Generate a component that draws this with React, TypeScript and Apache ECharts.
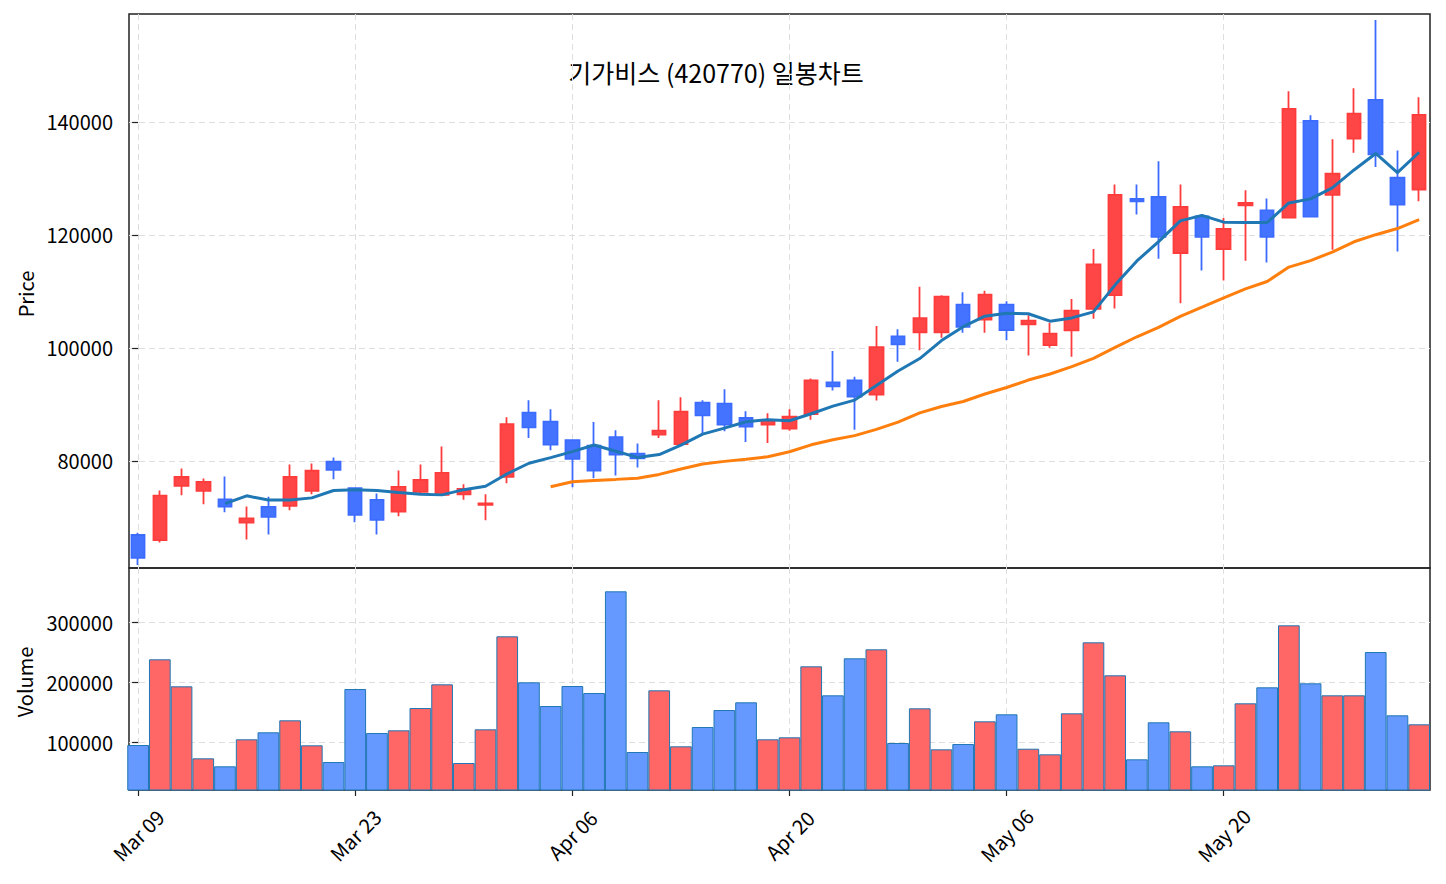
import React, { useEffect, useRef } from "react";
import * as echarts from "echarts";

const dates = [
  "Mar 09", "Mar 10", "Mar 11", "Mar 12", "Mar 13",
  "Mar 16", "Mar 17", "Mar 18", "Mar 19", "Mar 20",
  "Mar 23", "Mar 24", "Mar 25", "Mar 26", "Mar 27",
  "Mar 30", "Mar 31", "Apr 01", "Apr 02", "Apr 03",
  "Apr 06", "Apr 07", "Apr 08", "Apr 09", "Apr 10",
  "Apr 13", "Apr 14", "Apr 15", "Apr 16", "Apr 17",
  "Apr 20", "Apr 21", "Apr 22", "Apr 23", "Apr 24",
  "Apr 27", "Apr 28", "Apr 29", "Apr 30", "May 04",
  "May 06", "May 07", "May 08", "May 11", "May 12",
  "May 13", "May 14", "May 15", "May 18", "May 19",
  "May 20", "May 21", "May 22", "May 26", "May 27",
  "May 28", "May 29", "Jun 01", "Jun 02", "Jun 04",
];

const opens = [
  66900, 66010, 75600, 74710, 73220, 69080, 71870, 72050, 74710, 79870,
  75180, 73120, 71040, 74540, 74000, 74110, 72230, 77200, 88570, 86970,
  83700, 82710, 84230, 81290, 84660, 82990, 90340, 90160, 87610, 86440,
  85730, 88320, 93900, 94250, 91760, 102060, 102780, 102780, 107680, 105010,
  107680, 104200, 100520, 103130, 106910, 109350, 126400, 126750, 116810, 123310,
  117520, 125260, 124370, 123070, 140180, 127110, 137050, 143910, 130130, 128050,
];
const closes = [
  62870, 73880, 77200, 76310, 71930, 69850, 70100, 77200, 78270, 78440,
  70450, 69560, 75420, 76670, 77910, 75070, 72510, 86540, 85960, 82880,
  80400, 78320, 81110, 80450, 85370, 88740, 88090, 86440, 86080, 87150,
  87860, 94250, 93190, 91410, 100160, 100640, 105260, 109100, 103720, 109450,
  103180, 104840, 102530, 106610, 114780, 127110, 125970, 119650, 124980, 119650,
  121070, 125690, 119650, 142310, 123250, 130840, 141490, 134260, 125380, 141240,
];
const lows = [
  61570, 65590, 73930, 72330, 70910, 66120, 67010, 71270, 74110, 76770,
  69140, 67010, 70200, 74300, 73900, 73120, 69490, 76060, 84060, 81920,
  75350, 76950, 77430, 78850, 84060, 82900, 84940, 85250, 83350, 83170,
  85370, 87320, 92470, 85550, 90700, 97550, 99580, 101820, 102700, 102700,
  101350, 98690, 100040, 98440, 105190, 106970, 123610, 115790, 107930, 113720,
  111940, 115440, 115140, 122900, 123250, 117390, 134570, 132010, 117090, 125970,
];
const highs = [
  67310, 74770, 78670, 76900, 77250, 71930, 73650, 79390, 79560, 80630,
  75300, 74230, 78320, 79390, 82580, 75890, 74110, 87730, 90750, 89150,
  83750, 86900, 85420, 83110, 90750, 91280, 90750, 92710, 88800, 88440,
  89150, 94610, 99450, 94890, 103890, 103310, 110820, 109350, 109880, 110110,
  108280, 105790, 104480, 108690, 117520, 128940, 128940, 133070, 128940, 123610,
  123020, 127920, 126450, 145450, 141190, 136930, 145990, 158060, 134970, 144390,
];
const volumes = [
  96170, 239000, 194000, 74000, 60670, 105670, 117330, 137330, 95670, 67830,
  189500, 116170, 120670, 157830, 197330, 66170, 122330, 277330, 200670, 161170,
  194500, 182830, 352330, 84500, 187330, 94000, 126170, 154500, 167330, 105670,
  109000, 227330, 179000, 240670, 255670, 99500, 157330, 89000, 97830, 135670,
  147330, 90000, 80670, 149000, 267330, 212330, 72330, 134000, 119000, 60670,
  62330, 165670, 192330, 295670, 199000, 179000, 179000, 251170, 145670, 130670,
];

const priceTicks = [80000, 100000, 120000, 140000];
const volumeTicks = [100000, 200000, 300000];
const dateTickIndex = [0, 10, 20, 30, 40, 50];
const titleText = "기가비스 (420770) 일봉차트";

const FONT = '"Noto Sans CJK KR", "Noto Sans", sans-serif';

function movingAverage(values: number[], n: number): number[][] {
  const out: number[][] = [];
  for (let i = n - 1; i < values.length; i++) {
    let s = 0;
    for (let k = i - n + 1; k <= i; k++) s += values[k];
    out.push([i, s / n]);
  }
  return out;
}

export default function App() {
  const ref = useRef<HTMLDivElement>(null);

  useEffect(() => {
    document.body.style.margin = "0";
    if (!ref.current) return;
    const chart = echarts.init(ref.current, null, { renderer: "svg" });

    const gridLine = { show: true, lineStyle: { color: "#dedede", type: [6, 4], width: 1 } };
    const tickStyle = { color: "#222", width: 1.2 };

    const candleData = dates.map((_, i) => [i, opens[i], closes[i], lows[i], highs[i]]);
    const volData = volumes.map((v, i) => ({
      value: [i, v],
      itemStyle: { color: closes[i] >= opens[i] ? "#ff6666" : "#6699ff" },
    }));

    const xBase = {
      type: "value",
      min: -0.42,
      max: 59.5,
      axisLine: { show: false },
      splitLine: gridLine,
    };

    const option: any = {
      animation: false,
      backgroundColor: "#fff",
      textStyle: { fontFamily: FONT },
      grid: [
        { left: 129, top: 14, width: 1301, height: 554, show: true, borderColor: "#222", borderWidth: 1.5, backgroundColor: "transparent" },
        { left: 129, top: 568, width: 1301, height: 222, show: true, borderColor: "#222", borderWidth: 1.5, backgroundColor: "transparent" },
      ],
      xAxis: [
        {
          ...xBase,
          gridIndex: 0,
          axisTick: { show: false, customValues: dateTickIndex },
          axisLabel: { show: false, customValues: dateTickIndex },
        },
        {
          ...xBase,
          gridIndex: 1,
          axisTick: { show: true, length: 6, lineStyle: tickStyle, customValues: dateTickIndex },
          axisLabel: {
            customValues: dateTickIndex,
            rotate: 45,
            align: "center",
            verticalAlign: "middle",
            margin: 45,
            fontSize: 20,
            color: "#000",
            fontFamily: FONT,
            formatter: (v: number) => dates[Math.round(v)],
          },
        },
      ],
      yAxis: [
        {
          type: "value",
          gridIndex: 0,
          min: 61060,
          max: 159110,
          axisLine: { show: false },
          axisTick: { show: true, length: 6, lineStyle: tickStyle, customValues: priceTicks },
          axisLabel: { customValues: priceTicks, fontSize: 20, color: "#000", fontFamily: FONT, margin: 16, formatter: (v: number) => String(v) },
          splitLine: gridLine,
        },
        {
          type: "value",
          gridIndex: 1,
          min: 21200,
          max: 391200,
          axisLine: { show: false },
          axisTick: { show: true, length: 6, lineStyle: tickStyle, customValues: volumeTicks },
          axisLabel: { customValues: volumeTicks, fontSize: 20, color: "#000", fontFamily: FONT, margin: 16, formatter: (v: number) => String(v) },
          splitLine: gridLine,
        },
      ],
      series: [
        {
          type: "candlestick",
          xAxisIndex: 0,
          yAxisIndex: 0,
          data: candleData,
          encode: { x: 0, y: [1, 2, 3, 4] },
          barWidth: 14,
          itemStyle: {
            color: "#ff4646",
            color0: "#4474ff",
            borderColor: "#ff3c3c",
            borderColor0: "#3c6cff",
            borderWidth: 1.8,
          },
        },
        {
          type: "line",
          xAxisIndex: 0,
          yAxisIndex: 0,
          data: movingAverage(closes, 5),
          showSymbol: false,
          symbol: "none",
          lineStyle: { color: "#1f77b4", width: 3 },
          z: 3,
        },
        {
          type: "line",
          xAxisIndex: 0,
          yAxisIndex: 0,
          data: movingAverage(closes, 20),
          showSymbol: false,
          symbol: "none",
          lineStyle: { color: "#ff7f0e", width: 3 },
          z: 3,
        },
        {
          type: "bar",
          xAxisIndex: 1,
          yAxisIndex: 1,
          data: volData,
          barWidth: 21.7,
          clip: true,
          itemStyle: { borderColor: "#1f77b4", borderWidth: 1 },
        },
      ],
      graphic: [
        {
          type: "text",
          x: 716,
          y: 72,
          style: { text: titleText, fill: "#000", fontSize: 25, fontFamily: FONT, align: "center", verticalAlign: "middle", textAlign: "center", textVerticalAlign: "middle" },
        },
        {
          type: "text",
          x: 25,
          y: 294,
          rotation: Math.PI / 2,
          style: { text: "Price", fill: "#000", fontSize: 20, fontFamily: FONT, align: "center", verticalAlign: "middle", textAlign: "center", textVerticalAlign: "middle" },
        },
        {
          type: "text",
          x: 24,
          y: 682,
          rotation: Math.PI / 2,
          style: { text: "Volume", fill: "#000", fontSize: 20, fontFamily: FONT, align: "center", verticalAlign: "middle", textAlign: "center", textVerticalAlign: "middle" },
        },
      ],
    };

    chart.setOption(option);
    return () => chart.dispose();
  }, []);

  return <div ref={ref} style={{ width: 1446, height: 884 }} />;
}
